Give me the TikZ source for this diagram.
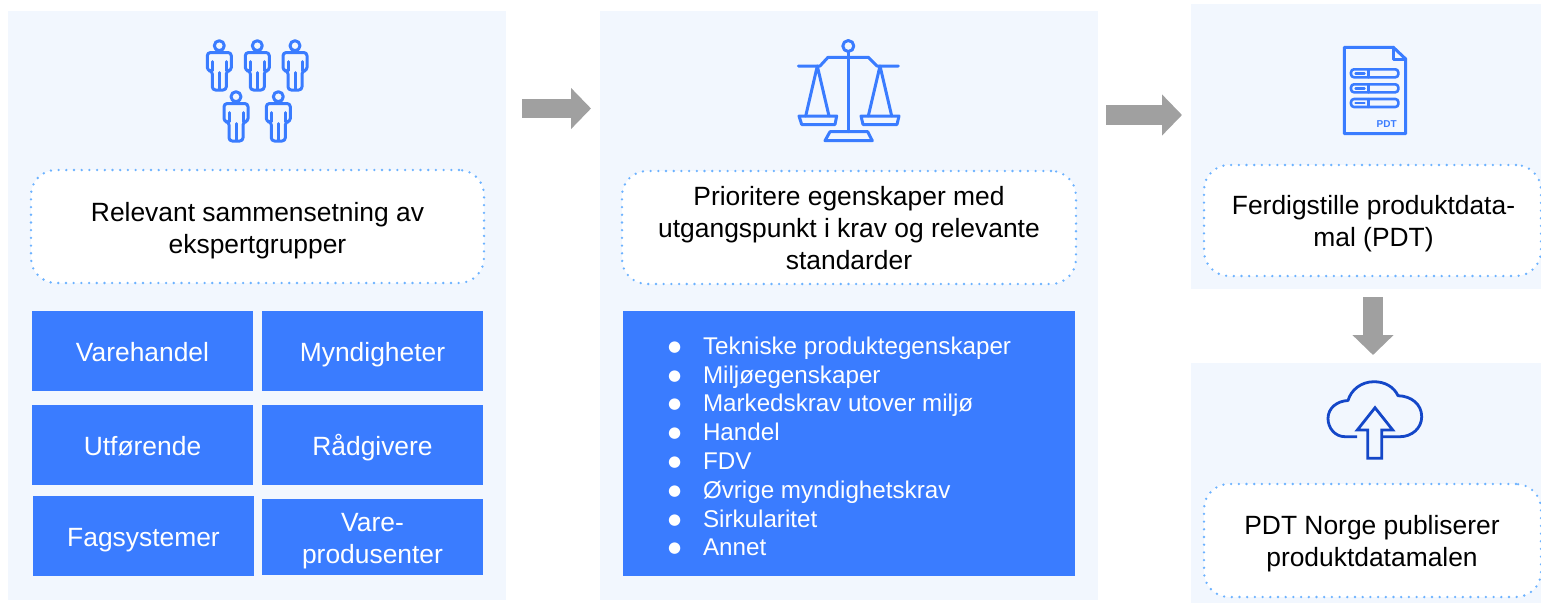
\documentclass[tikz,border=0pt]{standalone}
\usepackage{fontspec}
\setmainfont{Liberation Sans}
\newfontfamily\dvfont{DejaVu Sans}
\usetikzlibrary{arrows.meta}
\definecolor{panelbg}{HTML}{F2F7FE}
\definecolor{mainblue}{HTML}{3A7CFF}
\definecolor{dotblue}{HTML}{6CB2FF}
\definecolor{arrowgrey}{HTML}{A0A0A0}
\definecolor{clouddark}{HTML}{1447C8}
\newcommand{\bodyfont}{\fontsize{26.4}{32}\selectfont}
\newcommand{\listfont}{\fontsize{24.2}{28.8}\selectfont}
\newcommand{\itm}[1]{\makebox[35pt][l]{\dvfont\fontsize{15}{15}\selectfont\raisebox{3pt}{●}}#1}
\tikzset{
  every node/.style={outer sep=0pt,inner sep=0pt},
  panel/.style={fill=panelbg,anchor=north west},
  dotbox/.style={fill=white,draw=dotblue,line width=2.6pt,line cap=round,dash pattern=on 0pt off 7.7pt,rounded corners=25pt,anchor=north west},
  bluebox/.style={fill=mainblue,anchor=north west},
  boxtext/.style={text=white,align=center,font=\bodyfont},
  label/.style={align=center,font=\bodyfont,text=black},
  blockarrow/.style={draw=arrowgrey,-{Triangle[length=20pt,width=40pt]}},
  icon/.style={draw=mainblue,line width=3pt,line join=round,line cap=round},
  person/.pic={
    \draw[icon] (0,0) circle (5);
    \draw[icon,rounded corners=3.2pt] (0,6.8) -- (12,6.8) -- (12,25) -- (7,25) -- (7,44.3) -- (-7,44.3) -- (-7,25) -- (-12,25) -- (-12,6.8) -- cycle;
    \draw[icon] (0,27) -- (0,44) (-7,16) -- (-7,25) (7,16) -- (7,25);
  }
}
\begin{document}
\begin{tikzpicture}[x=1pt,y=-1pt]
\useasboundingbox (0,0) rectangle (1541,603);
% panels
\node[panel,minimum width=498pt,minimum height=589pt] (pa) at (8,11) {};
\node[panel,minimum width=498pt,minimum height=589pt] (pb) at (600,11) {};
\node[panel,minimum width=350pt,minimum height=285pt] (pc) at (1191,4) {};
\node[panel,minimum width=350pt,minimum height=240pt] (pd) at (1191,363) {};
% dotted boxes
\node[dotbox,minimum width=453pt,minimum height=113pt] (da) at (31,170) {};
\node[dotbox,minimum width=454pt,minimum height=113pt] (db) at (622,171) {};
\node[dotbox,minimum width=337pt,minimum height=111pt] (dc) at (1204,165) {};
\node[dotbox,minimum width=337pt,minimum height=113pt] (dd) at (1204,484) {};
\node[label] (ta) at (257.5,231) {Relevant sammensetning av\\ekspertgrupper};
\node[label] (tb) at (849,228) {Prioritere egenskaper med\\utgangspunkt i krav og relevante\\standarder};
\node[label] (tc) at (1373.5,224) {Ferdigstille produktdata-\\mal (PDT)};
\node[label] (td) at (1372,544) {PDT Norge publiserer\\produktdatamalen};
% blue boxes
\node[bluebox,minimum width=221pt,minimum height=80pt] (b1) at (32,311) {};
\node[bluebox,minimum width=221pt,minimum height=80pt] (b2) at (262,311) {};
\node[bluebox,minimum width=221pt,minimum height=80pt] (b3) at (32,405) {};
\node[bluebox,minimum width=221pt,minimum height=80pt] (b4) at (262,405) {};
\node[bluebox,minimum width=221pt,minimum height=80pt] (b5) at (33,496) {};
\node[bluebox,minimum width=221pt,minimum height=76pt] (b6) at (262,499) {};
\node[boxtext,anchor=base] (t1) at (142.5,361.5) {Varehandel};
\node[boxtext,anchor=base] (t2) at (372.5,361.5) {Myndigheter};
\node[boxtext,anchor=base] (t3) at (142.5,455.5) {Utførende};
\node[boxtext,anchor=base] (t4) at (372.5,455.5) {Rådgivere};
\node[boxtext,anchor=base] (t5) at (143.5,546.5) {Fagsystemer};
\node[boxtext] (t6) at (372.5,541) {Vare-\\produsenter};
\node[panel,fill=mainblue,minimum width=452pt,minimum height=265pt] (b7) at (623,311) {};
\node[anchor=west,align=left,text=white,font=\listfont] (lst) at (668,446.5) {%
\itm{Tekniske produktegenskaper}\\
\itm{Miljøegenskaper}\\
\itm{Markedskrav utover miljø}\\
\itm{Handel}\\
\itm{FDV}\\
\itm{Øvrige myndighetskrav}\\
\itm{Sirkularitet}\\
\itm{Annet}};
% block arrows
\coordinate (a1s) at (522,108.5);
\coordinate (a1e) at (591,108.5);
\coordinate (a2s) at (1106,115);
\coordinate (a2e) at (1182,115);
\coordinate (a3s) at (1373,297);
\coordinate (a3e) at (1373,355);
\draw[blockarrow,line width=19pt] (a1s) -- (a1e);
\draw[blockarrow,line width=20pt] (a2s) -- (a2e);
\draw[blockarrow,line width=20pt] (a3s) -- (a3e);
% people
\pic at (219.3,45.7) {person};
\pic at (257.3,45.7) {person};
\pic at (295,45.7) {person};
\pic at (236,96.7) {person};
\pic at (278.3,96.7) {person};
% scales
\draw[icon] (848.3,46) circle (5.5);
\draw[icon] (848.3,51.5) -- (848.3,131.7);
\draw[icon] (798.3,66) -- (820,66) -- (828,57.3) -- (868.3,57.3) -- (877,66) -- (898.3,66);
\draw[icon] (805.7,116) -- (817.3,66) -- (829,116);
\draw[icon] (868.3,116) -- (880,66) -- (891.7,116);
\draw[icon] (799,116) -- (836.7,116) -- (835,124.5) -- (801.7,124.5) -- cycle;
\draw[icon] (861,116) -- (899,116) -- (897,124.5) -- (863,124.5) -- cycle;
\draw[icon] (830,131.7) -- (867.7,131.7) -- (872.3,140.7) -- (825,140.7) -- cycle;
% document
\draw[icon] (1344.3,47.3) -- (1393.3,47.3) -- (1405.7,59) -- (1405.7,133.7) -- (1344.3,133.7) -- cycle;
\draw[icon] (1393.3,47.3) -- (1393.3,59) -- (1405.7,59);
\foreach \yy in {73.3,88.3,103}{
  \draw[icon,line width=2.6pt,rounded corners=3pt] (1351,\yy-4) rectangle (1398.3,\yy+4);
  \draw[icon,line width=2.4pt] (1368.3,\yy-4) -- (1368.3,\yy+4) (1355.5,\yy) -- (1364.5,\yy);
}
\node[text=mainblue,font=\fontsize{10}{12}\selectfont\bfseries] (pdt) at (1386.7,124) {PDT};
% cloud
\draw[draw=clouddark,line width=2.8pt,line join=round]
  (1357,436.7) -- (1345,436.7)
  .. controls (1335,436.7) and (1328,428) .. (1328,418.5)
  .. controls (1328,408) and (1337,401) .. (1348,400.5)
  .. controls (1351,390) and (1361,381.7) .. (1374,381.7)
  .. controls (1385,381.7) and (1394,387) .. (1398,395.7)
  .. controls (1411,396) and (1421.7,404) .. (1421.7,416.7)
  .. controls (1421.7,428) and (1412,436.7) .. (1400,436.7)
  -- (1381.7,436.7);
\draw[draw=clouddark,line width=2.8pt,line join=miter]
  (1375,407.7) -- (1392.7,430) -- (1381.7,430) -- (1381.7,458.3) -- (1367.7,458.3) -- (1367.7,430) -- (1357.3,430) -- cycle;
\end{tikzpicture}
\end{document}
